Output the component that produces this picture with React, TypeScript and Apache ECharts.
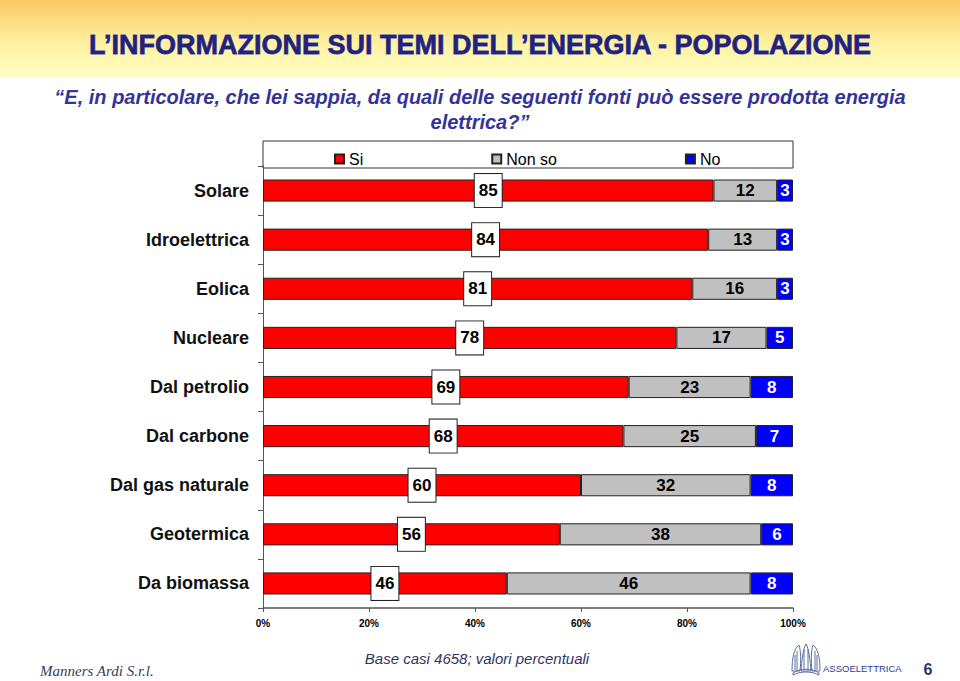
import React, { useEffect, useRef } from "react";
import * as echarts from "echarts";

const categories = [
  "Solare",
  "Idroelettrica",
  "Eolica",
  "Nucleare",
  "Dal petrolio",
  "Dal carbone",
  "Dal gas naturale",
  "Geotermica",
  "Da biomassa",
];
const siValues = [85, 84, 81, 78, 69, 68, 60, 56, 46];
const nonSoValues = [12, 13, 16, 17, 23, 25, 32, 38, 46];
const noValues = [3, 3, 3, 5, 8, 7, 8, 6, 8];
const seriesNames = ["Si", "Non so", "No"];
const xTicks = [0, 20, 40, 60, 80, 100];

const emblemPath =
  "M2 28 C2 14 4 6 9 2 C11 8 11 18 10 28 Z M11 28 C12 16 13 6 16 1 C19 6 20 16 21 28 Z M22 28 C21 18 21 8 23 2 C28 6 30 14 30 28 Z M3 30 C10 25 22 25 29 30 L29 32 C22 28 10 28 3 32 Z M5 27 L5 12 M7 27 L7 8 M14 27 L14 6 M18 27 L18 6 M25 27 L25 8 M27 27 L27 12";

let registered = false;

export default function App() {
  const ref = useRef<HTMLDivElement>(null);
  useEffect(() => {
    if (!ref.current) return;
    if (!registered) {
      echarts.graphic.registerShape(
        "assoEmblem",
        (echarts.graphic as any).extendPath(emblemPath, {})
      );
      registered = true;
    }
    const chart = echarts.init(ref.current, null, { renderer: "svg" });
    const barBorder = { borderColor: "#222", borderWidth: 1 };
    const font = "Liberation Sans, Arial, sans-serif";
    chart.setOption({
      animation: false,
      textStyle: { fontFamily: font },
      grid: { left: 263, right: 167, top: 166, bottom: 73, containLabel: false },
      legend: {
        data: seriesNames,
        left: 329,
        top: 146,
        icon: "rect",
        itemWidth: 9,
        itemHeight: 9,
        itemGap: 128,
        textStyle: { fontSize: 16, color: "#000", fontFamily: font },
      },
      xAxis: {
        type: "value",
        min: xTicks[0],
        max: xTicks[xTicks.length - 1],
        interval: 20,
        axisLine: { show: true, lineStyle: { color: "#555", width: 1.5 } },
        axisTick: { show: true, length: 4, lineStyle: { color: "#555" } },
        splitLine: { show: false },
        axisLabel: {
          formatter: "{value}%",
          fontSize: 10,
          fontWeight: "bold",
          color: "#000",
          margin: 10,
        },
      },
      yAxis: {
        type: "category",
        data: categories,
        inverse: true,
        axisLine: { show: true, lineStyle: { color: "#555", width: 1 } },
        axisTick: { show: true, length: 5, lineStyle: { color: "#555" } },
        axisLabel: { fontSize: 18, fontWeight: "bold", color: "#111", margin: 14 },
      },
      series: [
        {
          name: seriesNames[0],
          type: "bar",
          stack: "total",
          barWidth: "45%",
          data: siValues,
          itemStyle: { color: "#FF0000", ...barBorder },
          label: {
            show: true,
            position: "inside",
            fontSize: 17,
            fontWeight: "bold",
            color: "#000",
            backgroundColor: "#fff",
            borderColor: "#222",
            borderWidth: 1,
            padding: [8, 4, 8, 4],
          },
        },
        {
          name: seriesNames[1],
          type: "bar",
          stack: "total",
          barWidth: "45%",
          data: nonSoValues,
          itemStyle: { color: "#C0C0C0", ...barBorder },
          label: {
            show: true,
            position: "inside",
            fontSize: 17,
            fontWeight: "bold",
            color: "#000",
          },
        },
        {
          name: seriesNames[2],
          type: "bar",
          stack: "total",
          barWidth: "45%",
          data: noValues,
          itemStyle: { color: "#0000FF", ...barBorder },
          label: {
            show: true,
            position: "inside",
            fontSize: 17,
            fontWeight: "bold",
            color: "#fff",
          },
        },
      ],
      graphic: [
        {
          type: "rect",
          shape: { x: 0, y: 0, width: 960, height: 78 },
          style: {
            fill: new echarts.graphic.LinearGradient(0, 0, 0, 1, [
              { offset: 0, color: "#F9C866" },
              { offset: 0.55, color: "#FEF1A0" },
              { offset: 1, color: "#FFFFC4" },
            ]),
          },
          z: -10,
        },
        {
          type: "text",
          x: 480,
          y: 45,
          style: {
            text: "L’INFORMAZIONE SUI TEMI DELL’ENERGIA - POPOLAZIONE",
            font: "bold 27px Liberation Sans, Arial, sans-serif",
            fill: "#22227a",
            stroke: "#4a4ab0",
            lineWidth: 0.8,
            align: "center",
            verticalAlign: "middle",
          },
        },
        {
          type: "text",
          x: 480,
          y: 97,
          style: {
            text: "“E, in particolare, che lei sappia, da quali delle seguenti fonti può essere prodotta energia",
            font: "italic bold 20px Liberation Sans, Arial, sans-serif",
            fill: "#333399",
            align: "center",
            verticalAlign: "middle",
          },
        },
        {
          type: "text",
          x: 480,
          y: 122,
          style: {
            text: "elettrica?”",
            font: "italic bold 20px Liberation Sans, Arial, sans-serif",
            fill: "#333399",
            align: "center",
            verticalAlign: "middle",
          },
        },
        {
          type: "rect",
          shape: { x: 263, y: 141, width: 530, height: 27 },
          style: { fill: "#fff", stroke: "#333", lineWidth: 1 },
          z: -1,
        },
        {
          type: "text",
          x: 477,
          y: 658,
          style: {
            text: "Base casi 4658; valori percentuali",
            font: "italic 15px Liberation Sans, Arial, sans-serif",
            fill: "#333366",
            align: "center",
            verticalAlign: "middle",
          },
        },
        {
          type: "text",
          x: 40,
          y: 671,
          style: {
            text: "Manners Ardi S.r.l.",
            font: "italic 15px Liberation Serif, Times New Roman, serif",
            fill: "#3a3a5a",
            align: "left",
            verticalAlign: "middle",
          },
        },
        {
          type: "assoEmblem",
          x: 790,
          y: 643,
          scaleX: 1,
          scaleY: 1,
          style: { fill: "none", stroke: "#5a6ea0", lineWidth: 1 },
        },
        {
          type: "text",
          x: 823,
          y: 668,
          style: {
            text: "ASSOELETTRICA",
            font: "9.5px Liberation Sans, Arial, sans-serif",
            fill: "#27408f",
            align: "left",
            verticalAlign: "middle",
          },
        },
        {
          type: "text",
          x: 928,
          y: 669,
          style: {
            text: "6",
            font: "bold 16px Liberation Sans, Arial, sans-serif",
            fill: "#333366",
            align: "center",
            verticalAlign: "middle",
          },
        },
      ],
    });
    return () => chart.dispose();
  }, []);
  return <div ref={ref} style={{ width: 960, height: 681, position: "absolute", left: 0, top: 0 }} />;
}
